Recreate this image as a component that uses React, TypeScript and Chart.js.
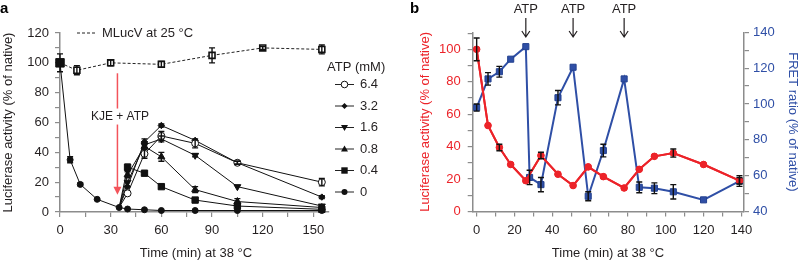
import React, { useEffect, useRef } from 'react';
import { Chart, registerables } from 'chart.js';
Chart.register(...registerables);

const FONT = '"Liberation Sans", Arial, Helvetica, sans-serif';
const INK = '#231f20';
const AXIS = '#8c8c8c';
const RED = '#ec2329';
const BLUE = '#2f4fa6';
const ARROW_RED = '#f3535a';

// ---------- Panel a data ----------
const mlucvTime = [0, 10, 30, 60, 90, 120, 155];
const mlucvValue = [100, 95, 100, 99, 105, 110, 109];
const mlucvError = [0, 3, 2, 2, 5, 1, 3];

const atp0Time = [0, 6, 12, 22, 35, 40, 50, 60, 80, 105, 155];
const atp0Value = [100, 35, 18.5, 8.5, 3, 2, 1.5, 1, 1, 1, 1];
const atp0Error = [6, 2, 1, 0, 0, 0, 0, 0, 0, 0, 0];

const recoveryTime = [35, 40, 50, 60, 80, 105, 155];
const atp6_4 = [3, 12.5, 39, 51, 46, 33, 20];
const atp3_2 = [3, 17, 47, 58, 48, 33, 10];
const atp1_6 = [3, 20, 45, 49, 38, 17, 4];
const atp0_8 = [3, 25, 44, 37, 15, 7, 3];
const atp0_4 = [3, 30, 26, 17, 8, 4, 1.8];
const err6_4 = [0, 0, 3, 3, 3, 1, 2.5];
const err3_2 = [0, 0, 2, 1, 0, 1, 1];
const err1_6 = [0, 0, 2, 2, 1, 0, 0];
const err0_8 = [0, 2, 2, 3, 2, 2, 1];
const err0_4 = [0, 2, 1, 1, 1, 1, 1];

const atpLevels = ['6.4', '3.2', '1.6', '0.8', '0.4', '0'];
const aTimeTicks = [0, 15, 30, 45, 60, 75, 90, 105, 120, 135, 150];
const aTimeLabels = [0, 30, 60, 90, 120, 150];
const aActTicks = [0, 10, 20, 30, 40, 50, 60, 70, 80, 90, 100, 110, 120];
const aActLabels = [0, 20, 40, 60, 80, 100, 120];

// ---------- Panel b data ----------
const lucTime = [0, 6, 12, 18, 26, 34, 43, 51, 59, 67, 78, 86, 94, 104, 120, 139];
const lucValue = [100, 53, 39.5, 29, 19, 34.5, 23, 16, 27.5, 21.5, 14.5, 26, 34, 36, 29, 19];
const lucError = [7, 0, 2, 0, 0, 2, 0, 0, 0, 0, 0, 0, 0, 2.5, 0, 2];

const fretTime = [0, 6, 12, 18, 26, 28, 34, 43, 51, 59, 67, 78, 86, 94, 104, 120, 139];
const fretValue = [98, 114, 118, 125, 132, 59, 55, 103.5, 120.5, 48.5, 74, 114, 53.5, 53, 51, 46.5, 57];
const fretError = [2, 3.5, 3, 0, 0, 4, 4, 4, 0, 2.5, 3.5, 0, 3, 3, 4, 0, 3];

const atpAddTimes = [26, 51, 78];
const bTimeTicks = [0, 10, 20, 30, 40, 50, 60, 70, 80, 90, 100, 110, 120, 130, 140];
const bTimeLabels = [0, 20, 40, 60, 80, 100, 120, 140];
const bLucTicks = [0, 10, 20, 30, 40, 50, 60, 70, 80, 90, 100, 110];
const bLucLabels = [0, 20, 40, 60, 80, 100];
const bFretTicks = [40, 50, 60, 70, 80, 90, 100, 110, 120, 130, 140];
const bFretLabels = [40, 60, 80, 100, 120, 140];

const pts = (xs: number[], ys: number[]) => xs.map((x, i) => ({ x, y: ys[i] }));

// Draws error bars (and, for datasets flagged with traceLine, re-strokes the
// series path through the library-placed point elements).
function makeErrorBarPlugin(id: string) {
  return {
    id,
    afterDatasetsDraw(chart: any) {
      const ctx = chart.ctx;
      chart.data.datasets.forEach((ds: any, i: number) => {
        const meta = chart.getDatasetMeta(i);
        if (ds.traceLine && meta.data.length) {
          ctx.save();
          ctx.strokeStyle = ds.borderColor;
          ctx.lineWidth = ds.borderWidth;
          ctx.lineJoin = 'round';
          ctx.setLineDash([]);
          ctx.beginPath();
          meta.data.forEach((pt: any, j: number) => {
            if (j === 0) ctx.moveTo(pt.x, pt.y);
            else ctx.lineTo(pt.x, pt.y);
          });
          ctx.stroke();
          ctx.fillStyle = ds.pointBackgroundColor;
          meta.data.forEach((pt: any) => {
            ctx.beginPath();
            ctx.arc(pt.x, pt.y, ds.pointRadius, 0, Math.PI * 2);
            ctx.fill();
          });
          ctx.restore();
        }
      });
      chart.data.datasets.forEach((ds: any, i: number) => {
        const errs = ds.errors;
        if (!errs) return;
        const meta = chart.getDatasetMeta(i);
        const yScale = chart.scales[meta.yAxisID];
        ctx.save();
        ctx.strokeStyle = '#111';
        ctx.lineWidth = 1.4;
        ctx.setLineDash([]);
        meta.data.forEach((pt: any, j: number) => {
          const e = errs[j];
          if (!e) return;
          const v = ds.data[j].y;
          const x = pt.x;
          const y1 = yScale.getPixelForValue(v + e);
          const y2 = yScale.getPixelForValue(v - e);
          ctx.beginPath();
          ctx.moveTo(x, y1); ctx.lineTo(x, y2);
          ctx.moveTo(x - 3, y1); ctx.lineTo(x + 3, y1);
          ctx.moveTo(x - 3, y2); ctx.lineTo(x + 3, y2);
          ctx.stroke();
        });
        ctx.restore();
      });
    },
  };
}

function drawMarker(ctx: CanvasRenderingContext2D, kind: string, x: number, y: number) {
  ctx.save();
  ctx.fillStyle = '#111';
  ctx.strokeStyle = '#111';
  ctx.lineWidth = 1;
  ctx.beginPath();
  if (kind === 'open') {
    ctx.arc(x, y, 3.3, 0, Math.PI * 2);
    ctx.fillStyle = '#fff';
    ctx.fill();
    ctx.stroke();
  } else if (kind === 'circle') {
    ctx.arc(x, y, 3, 0, Math.PI * 2);
    ctx.fill();
  } else if (kind === 'diamond') {
    ctx.moveTo(x, y - 3); ctx.lineTo(x + 3, y); ctx.lineTo(x, y + 3); ctx.lineTo(x - 3, y);
    ctx.closePath(); ctx.fill();
  } else if (kind === 'up') {
    ctx.moveTo(x, y - 3.5); ctx.lineTo(x + 3.5, y + 2.5); ctx.lineTo(x - 3.5, y + 2.5);
    ctx.closePath(); ctx.fill();
  } else if (kind === 'down') {
    ctx.moveTo(x, y + 3.5); ctx.lineTo(x + 3.5, y - 2.5); ctx.lineTo(x - 3.5, y - 2.5);
    ctx.closePath(); ctx.fill();
  } else if (kind === 'square') {
    ctx.rect(x - 3.2, y - 3.2, 6.4, 6.4);
    ctx.fill();
  }
  ctx.restore();
}

const legendKinds = ['open', 'diamond', 'down', 'up', 'square', 'circle'];

const annotA = {
  id: 'annotA',
  afterDraw(chart: any) {
    const ctx = chart.ctx as CanvasRenderingContext2D;
    const xs = chart.scales.x;
    const ys = chart.scales.y;
    ctx.save();
    ctx.fillStyle = '#000';
    ctx.font = `bold 15px ${FONT}`;
    ctx.textBaseline = 'middle';
    ctx.textAlign = 'left';
    ctx.fillText('a', 0, 9);

    ctx.font = `13px ${FONT}`;
    ctx.fillStyle = INK;
    ctx.save();
    ctx.translate(8, (chart.chartArea.top + chart.chartArea.bottom) / 2);
    ctx.rotate(-Math.PI / 2);
    ctx.textAlign = 'center';
    ctx.fillText('Luciferase activity (% of native)', 0, 0);
    ctx.restore();
    ctx.textAlign = 'center';
    ctx.fillText('Time (min) at 38 °C', 196, 253);

    ctx.strokeStyle = '#222';
    ctx.lineWidth = 1;
    ctx.setLineDash([3, 2]);
    ctx.beginPath(); ctx.moveTo(77, 33); ctx.lineTo(97, 33); ctx.stroke();
    ctx.setLineDash([]);
    ctx.textAlign = 'left';
    ctx.fillText('MLucV at 25 °C', 102, 33);

    ctx.fillText('ATP (mM)', 327, 67);
    atpLevels.forEach((lab, i) => {
      const yy = 84.5 + i * 21.5;
      ctx.strokeStyle = '#222';
      ctx.lineWidth = 1;
      ctx.beginPath(); ctx.moveTo(335, yy); ctx.lineTo(354, yy); ctx.stroke();
      drawMarker(ctx, legendKinds[i], 344.5, yy);
      ctx.fillStyle = INK;
      ctx.fillText(lab, 360, yy);
    });

    const ax = xs.getPixelForValue(34);
    const top = ys.getPixelForValue(93);
    const tip = ys.getPixelForValue(11.5);
    ctx.strokeStyle = ARROW_RED;
    ctx.fillStyle = ARROW_RED;
    ctx.lineWidth = 1.5;
    ctx.beginPath(); ctx.moveTo(ax, top); ctx.lineTo(ax, tip - 6); ctx.stroke();
    ctx.beginPath(); ctx.moveTo(ax, tip); ctx.lineTo(ax - 4, tip - 8); ctx.lineTo(ax + 4, tip - 8); ctx.closePath(); ctx.fill();
    const tx = xs.getPixelForValue(35.5);
    const ty = ys.getPixelForValue(64);
    ctx.font = `12px ${FONT}`;
    const w = ctx.measureText('KJE + ATP').width;
    ctx.fillStyle = '#fff';
    ctx.fillRect(tx - w / 2 - 2, ty - 8, w + 4, 16);
    ctx.fillStyle = INK;
    ctx.textAlign = 'center';
    ctx.fillText('KJE + ATP', tx, ty);
    ctx.restore();
  },
};

const annotB = {
  id: 'annotB',
  afterDraw(chart: any) {
    const ctx = chart.ctx as CanvasRenderingContext2D;
    const xs = chart.scales.x;
    const area = chart.chartArea;
    ctx.save();
    ctx.fillStyle = '#000';
    ctx.font = `bold 15px ${FONT}`;
    ctx.textBaseline = 'middle';
    ctx.textAlign = 'left';
    ctx.fillText('b', 10, 9);

    ctx.font = `13px ${FONT}`;
    const midY = (area.top + area.bottom) / 2;
    ctx.save();
    ctx.fillStyle = RED;
    ctx.translate(25.5, midY);
    ctx.rotate(-Math.PI / 2);
    ctx.textAlign = 'center';
    ctx.fillText('Luciferase activity (% of native)', 0, 0);
    ctx.restore();
    ctx.save();
    ctx.fillStyle = BLUE;
    ctx.translate(392.5, midY);
    ctx.rotate(Math.PI / 2);
    ctx.textAlign = 'center';
    ctx.fillText('FRET ratio (% of native)', 0, 0);
    ctx.restore();
    ctx.fillStyle = INK;
    ctx.textAlign = 'center';
    ctx.fillText('Time (min) at 38 °C', 208, 253);

    atpAddTimes.forEach((t) => {
      const x = xs.getPixelForValue(t);
      ctx.fillStyle = INK;
      ctx.fillText('ATP', x, 9);
      ctx.strokeStyle = INK;
      ctx.lineWidth = 1.2;
      ctx.beginPath();
      ctx.moveTo(x, 18); ctx.lineTo(x, 37);
      ctx.moveTo(x - 4, 31); ctx.lineTo(x, 37); ctx.lineTo(x + 4, 31);
      ctx.stroke();
    });
    ctx.restore();
  },
};

function makeTicks(values: number[], labels: number[], color: string, padding: number) {
  return {
    afterBuildTicks: (s: any) => { s.ticks = values.map((v) => ({ value: v })); },
    ticks: {
      autoSkip: false,
      maxRotation: 0,
      padding,
      color,
      font: { family: FONT, size: 13 },
      callback: (v: any) => (labels.includes(Number(v)) ? String(v) : ''),
    },
    grid: { drawOnChartArea: false, drawTicks: true, tickLength: 5, color: AXIS, lineWidth: 1.2 },
    border: { display: true, color: AXIS, width: 1.5 },
  };
}

export default function App() {
  const refA = useRef<HTMLCanvasElement>(null);
  const refB = useRef<HTMLCanvasElement>(null);

  useEffect(() => {
    // ----- panel b -----
    const dsB: any[] = [
      {
        label: 'Luciferase',
        data: pts(lucTime, lucValue),
        errors: lucError,
        traceLine: true,
        yAxisID: 'y',
        borderColor: RED,
        backgroundColor: RED,
        borderWidth: 2,
        pointStyle: 'circle',
        pointRadius: 3.3,
        pointBackgroundColor: RED,
        pointBorderColor: RED,
        pointBorderWidth: 1,
        clip: false,
      },
      {
        label: 'FRET',
        data: pts(fretTime, fretValue),
        errors: fretError,
        yAxisID: 'y2',
        borderColor: BLUE,
        backgroundColor: BLUE,
        borderWidth: 2,
        pointStyle: 'rect',
        pointRadius: 4.3,
        pointBackgroundColor: BLUE,
        pointBorderColor: '#23408f',
        pointBorderWidth: 1,
        clip: false,
      },
    ];

    const chartB = new Chart(refB.current as HTMLCanvasElement, {
      type: 'line',
      data: { datasets: dsB },
      options: {
        responsive: false,
        animation: false,
        devicePixelRatio: 1,
        layout: { padding: { top: 32.3, right: 0, left: 0, bottom: 0 } },
        plugins: { legend: { display: false }, tooltip: { enabled: false } },
        scales: {
          x: {
            type: 'linear',
            min: -2.1,
            max: 141.4,
            ...makeTicks(bTimeTicks, bTimeLabels, INK, 6),
            afterFit: (s: any) => { s.height = 49.5; },
          } as any,
          y: {
            type: 'linear',
            position: 'left',
            min: 0,
            max: 110.5,
            ...makeTicks(bLucTicks, bLucLabels, RED, 7),
            afterFit: (s: any) => { s.width = 72.7; },
          } as any,
          y2: {
            type: 'linear',
            position: 'right',
            min: 40,
            max: 140,
            ...makeTicks(bFretTicks, bFretLabels, BLUE, 4),
            afterFit: (s: any) => { s.width = 55; },
          } as any,
        },
      },
      plugins: [makeErrorBarPlugin('errorBarsB'), annotB],
    } as any);

    // ----- panel a -----
    const recovery = [
      { data: atp6_4, errors: err6_4, style: 'circle', bg: '#fff', r: 3.5, rot: 0 },
      { data: atp3_2, errors: err3_2, style: 'rectRot', bg: '#111', r: 3.2, rot: 0 },
      { data: atp1_6, errors: err1_6, style: 'triangle', bg: '#111', r: 4, rot: 180 },
      { data: atp0_8, errors: err0_8, style: 'triangle', bg: '#111', r: 4, rot: 0 },
      { data: atp0_4, errors: err0_4, style: 'rect', bg: '#111', r: 4.5, rot: 0 },
    ];
    const dsA: any[] = [
      {
        label: 'ATP 0',
        data: pts(atp0Time, atp0Value),
        errors: atp0Error,
        borderColor: '#111',
        borderWidth: 1,
        pointStyle: (c: any) => (c.dataIndex === 0 ? 'rect' : 'circle'),
        pointRadius: (c: any) => (c.dataIndex === 0 ? 6 : 3),
        pointBackgroundColor: '#111',
        pointBorderColor: '#111',
        pointBorderWidth: 1,
        clip: false,
      },
      ...recovery.map((s, i) => ({
        label: 'ATP ' + atpLevels[i],
        data: pts(recoveryTime, s.data),
        errors: s.errors,
        borderColor: '#111',
        borderWidth: 1,
        pointStyle: s.style,
        pointRadius: (c: any) => (c.dataIndex === 0 ? 0 : s.r),
        pointRotation: s.rot,
        pointBackgroundColor: s.bg,
        pointBorderColor: '#111',
        pointBorderWidth: 1,
        clip: false,
      })),
      {
        label: 'MLucV',
        data: pts(mlucvTime, mlucvValue),
        errors: mlucvError,
        borderColor: '#222',
        borderWidth: 1,
        borderDash: [3, 2],
        pointStyle: 'rect',
        pointRadius: (c: any) => (c.dataIndex === 0 ? 0 : 4.2),
        pointBackgroundColor: '#fff',
        pointBorderColor: '#111',
        pointBorderWidth: 1.6,
        clip: false,
      },
    ];

    const chartA = new Chart(refA.current as HTMLCanvasElement, {
      type: 'line',
      data: { datasets: dsA },
      options: {
        responsive: false,
        animation: false,
        devicePixelRatio: 1,
        layout: { padding: { top: 33, right: 400 - 328.6, left: 0, bottom: 0 } },
        plugins: { legend: { display: false }, tooltip: { enabled: false } },
        scales: {
          x: {
            type: 'linear',
            min: 0,
            max: 159,
            ...makeTicks(aTimeTicks, aTimeLabels, INK, 6),
            afterFit: (s: any) => { s.height = 49; },
          } as any,
          y: {
            type: 'linear',
            min: 0,
            max: 120,
            ...makeTicks(aActTicks, aActLabels, INK, 6),
            afterFit: (s: any) => { s.width = 60; },
          } as any,
        },
      },
      plugins: [makeErrorBarPlugin('errorBarsA'), annotA],
    } as any);

    return () => {
      chartA.destroy();
      chartB.destroy();
    };
  }, []);

  return (
    <div style={{ position: 'absolute', left: 0, top: 0, width: 799, height: 261, background: '#fff' }}>
      <canvas
        ref={refA}
        width={400}
        height={261}
        style={{ position: 'absolute', left: 0, top: 0, width: 400, height: 261 }}
      />
      <canvas
        ref={refB}
        width={399}
        height={261}
        style={{ position: 'absolute', left: 400, top: 0, width: 399, height: 261 }}
      />
    </div>
  );
}
